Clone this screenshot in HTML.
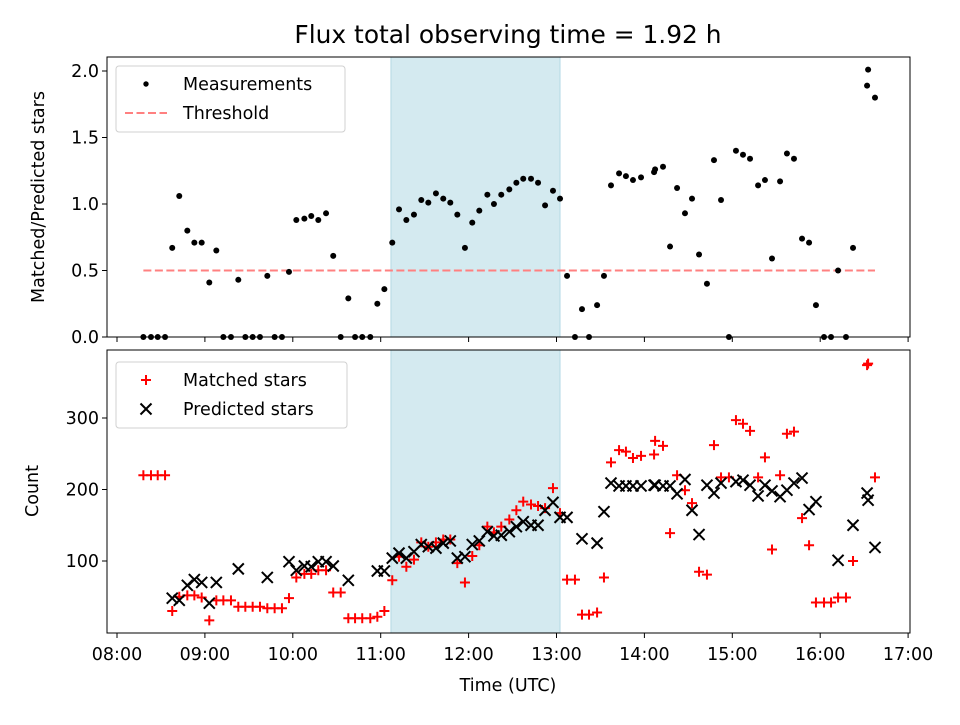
<!DOCTYPE html>
<html><head><meta charset="utf-8"><style>
body{margin:0;background:#fff}
svg text{font-family:"DejaVu Sans","Liberation Sans",sans-serif;fill:#000}
</style></head><body>
<svg id="fig" width="960" height="720" viewBox="0 0 960 720" xmlns="http://www.w3.org/2000/svg">
<rect width="960" height="720" fill="#fff"/>
<text x="508" y="43" font-size="24.9" text-anchor="middle">Flux total observing time = 1.92 h</text>
<g id="topPanel"></g><g id="botPanel"></g>
<text transform="translate(44,197) rotate(-90)" font-size="17.5" text-anchor="middle">Matched/Predicted stars</text>
<text transform="translate(38,491) rotate(-90)" font-size="17.5" text-anchor="middle">Count</text>
<text x="508" y="691" font-size="17.5" text-anchor="middle">Time (UTC)</text>
</svg>
<script>
// minutes since 08:00
const ratioTimes=[18,23.2,27.8,32.8,37.7,42.5,48,52.8,57.8,63,67.8,72.6,77.8,82.8,87.6,92.6,97.6,102.6,107.6,112.6,117.4,122.4,127.9,132.6,137.4,142.7,147.6,152.7,157.9,162.5,167.4,172.9,177.7,182.5,187.9,192.5,197.5,202.7,207.7,212.5,217.7,222.7,227.5,232.3,237.5,242.5,247.3,252.8,257.3,262.3,267.8,272.6,277.3,282.6,287.4,292.2,297.6,302.4,307.2,312.6,317.4,322.2,327.7,332.4,337.2,342.7,347.4,352.2,357.7,366.6,367.3,372.7,377.5,382.3,387.7,392.5,397.3,402.7,407.5,412.3,417.7,422.5,427.3,432.1,437.6,442.3,447.1,452.6,457.3,462.1,467.6,472.4,477.1,482.6,487.4,492.2,497.6,502.4,512,512.7,517.4];
const ratioValues=[0,0,0,0,0.67,1.06,0.80,0.71,0.71,0.41,0.65,0,0,0.43,0,0,0,0.46,0,0,0.49,0.88,0.89,0.91,0.88,0.93,0.61,0,0.29,0,0,0,0.25,0.36,0.71,0.96,0.88,0.92,1.03,1.01,1.08,1.04,1.01,0.92,0.67,0.86,0.95,1.07,1.00,1.07,1.11,1.16,1.19,1.19,1.16,0.99,1.10,1.04,0.46,0,0.21,0,0.24,0.46,1.14,1.23,1.21,1.18,1.20,1.24,1.26,1.28,0.68,1.12,0.93,1.04,0.62,0.40,1.33,1.03,0,1.40,1.37,1.34,1.14,1.18,0.59,1.17,1.38,1.34,0.74,0.71,0.24,0,0,0.50,0,0.67,1.89,2.01,1.80];
const matchedValues=[220,220,220,220,30,50,52,52,49,17,45,45,45,36,36,36,36,34,34,34,48,77,82,82,87,87,56,56,20,20,20,20,22,30,73,106,92,102,126,120,126,130,130,97,70,107,122,148,140,148,158,171,183,179,177,174,202,167,74,74,25,25,28,77,238,255,253,244,247,249,268,261,139,220,199,181,85,81,262,217,217,297,292,282,217,245,116,220,278,281,160,122,42,42,42,49,49,100,374,376,217];
const predTimes=[37.7,42.5,48,52.8,57.8,63,67.8,82.8,102.6,117.4,122.4,127.9,132.6,137.4,142.7,147.6,157.9,177.7,182.5,187.9,192.5,197.5,202.7,207.7,212.5,217.7,222.7,227.5,232.3,237.5,242.5,247.3,252.8,257.3,262.3,267.8,272.6,277.3,282.6,287.4,292.2,297.6,302.4,307.2,317.4,327.7,332.4,337.2,342.7,347.4,352.2,357.7,366.6,367.3,372.7,377.5,382.3,387.7,392.5,397.3,402.7,407.5,412.3,422.5,427.3,432.1,437.6,442.3,447.1,452.6,457.3,462.1,467.6,472.4,477.1,492.2,502.4,512,512.7,517.4];
const predValues=[48,45,66,74,70,41,70,89,77,99,87,93,92,99,99,93,73,86,86,104,111,104,113,123,120,118,125,128,104,106,123,128,141,135,136,141,148,155,150,150,171,182,161,161,131,125,169,209,205,205,205,205,206,206,205,205,194,214,171,137,206,195,209,211,213,206,191,206,198,190,199,209,216,172,183,101,150,195,185,119];
const xTickLabels=["08:00","09:00","10:00","11:00","12:00","13:00","14:00","15:00","16:00","17:00"];
const topTicks=["0.0","0.5","1.0","1.5","2.0"];
const botTicks=["100","200","300"];
const shadeRange=[187,302.4];
const thresholdValue=0.5;

const NS="http://www.w3.org/2000/svg";
const L=107,R=910;
const FS=17.5;
const x=m=>117+m*87.9/60;
const yTop=v=>337-v*133;
const yBot=v=>561-(v-100)*0.715;
function mk(p,tag,at){const e=document.createElementNS(NS,tag);for(const k in at)e.setAttribute(k,at[k]);p.appendChild(e);return e;}
const topG=document.getElementById('topPanel'),botG=document.getElementById('botPanel');

function frame(g,t,b,name){
  const s=mk(g,'rect',{x:x(shadeRange[0]),y:t,width:x(shadeRange[1])-x(shadeRange[0]),height:b-t,fill:'#d4eaf0',stroke:'#b4d8e4','stroke-width':1});
  
  
  xTickLabels.forEach((l,i)=>{const px=x(i*60);mk(g,'line',{x1:px,x2:px,y1:b,y2:b+5,stroke:'#000','stroke-width':1});});
}
function border(g,t,b,name){
  const r=mk(g,'rect',{x:L,y:t,width:R-L,height:b-t,fill:'none',stroke:'#000','stroke-width':1});
  
  
}
// top panel
frame(topG,57,337,'top');
const th=mk(topG,'line',{x1:x(ratioTimes[0]),x2:x(ratioTimes[ratioTimes.length-1]),y1:yTop(thresholdValue),y2:yTop(thresholdValue),stroke:'#ff8080','stroke-width':2,'stroke-dasharray':'8,3.5'});


ratioTimes.forEach((t,i)=>{const c=mk(topG,'circle',{cx:x(t),cy:yTop(ratioValues[i]),r:3,fill:'#000'});
  
  });
topTicks.forEach(l=>{const v=parseFloat(l),py=yTop(v);mk(topG,'line',{x1:L-5,x2:L,y1:py,y2:py,stroke:'#000'});
  const tx=mk(topG,'text',{x:L-8,y:py+6,'font-size':FS,'text-anchor':'end'});tx.textContent=l;
  
  });
border(topG,57,337,'top');
// bottom panel
frame(botG,350,633,'bottom');
function plus(g,cx,cy){mk(g,'path',{d:`M${cx-5},${cy}H${cx+5}M${cx},${cy-5}V${cy+5}`,stroke:'#ff0000','stroke-width':2});}
function cross(g,cx,cy){mk(g,'path',{d:`M${cx-5.5},${cy-5.5}L${cx+5.5},${cy+5.5}M${cx-5.5},${cy+5.5}L${cx+5.5},${cy-5.5}`,stroke:'#000','stroke-width':2});}
ratioTimes.forEach((t,i)=>{const g=mk(botG,'g',{});
  
  
  plus(g,x(t),yBot(matchedValues[i]));});
predTimes.forEach((t,i)=>{const g=mk(botG,'g',{});
  
  
  cross(g,x(t),yBot(predValues[i]));});
botTicks.forEach(l=>{const py=yBot(+l);mk(botG,'line',{x1:L-5,x2:L,y1:py,y2:py,stroke:'#000'});
  const tx=mk(botG,'text',{x:L-8,y:py+6,'font-size':FS,'text-anchor':'end'});tx.textContent=l;
  
  });
xTickLabels.forEach((l,i)=>{const tx=mk(botG,'text',{x:x(i*60),y:660,'font-size':FS,'text-anchor':'middle'});tx.textContent=l;
  
  });
border(botG,350,633,'bottom');
// legends
function legend(g,y0,w,items,name){
  const lg=mk(g,'g',{});
  
  
  mk(lg,'rect',{x:116,y:y0,width:w,height:66,rx:3,fill:'#fff','fill-opacity':0.85,stroke:'#d0d0d0'});
  items.forEach((it,i)=>{const cy=y0+18+i*29;it.draw(lg,146,cy);
    const tx=mk(lg,'text',{x:183,y:cy+6,'font-size':FS});tx.textContent=it.label;
    
    });
}
legend(topG,66,229,[{label:'Measurements',draw:(g,cx,cy)=>mk(g,'circle',{cx:cx,cy:cy,r:2.7,fill:'#000'})},
 {label:'Threshold',draw:(g,cx,cy)=>mk(g,'line',{x1:cx-21,x2:cx+21,y1:cy,y2:cy,stroke:'#ff8080','stroke-width':2,'stroke-dasharray':'8,3.5'})}],'top-legend');
legend(botG,362,231,[{label:'Matched stars',draw:(g,cx,cy)=>plus(g,cx,cy)},
 {label:'Predicted stars',draw:(g,cx,cy)=>cross(g,cx,cy)}],'bottom-legend');
</script>
</body></html>
